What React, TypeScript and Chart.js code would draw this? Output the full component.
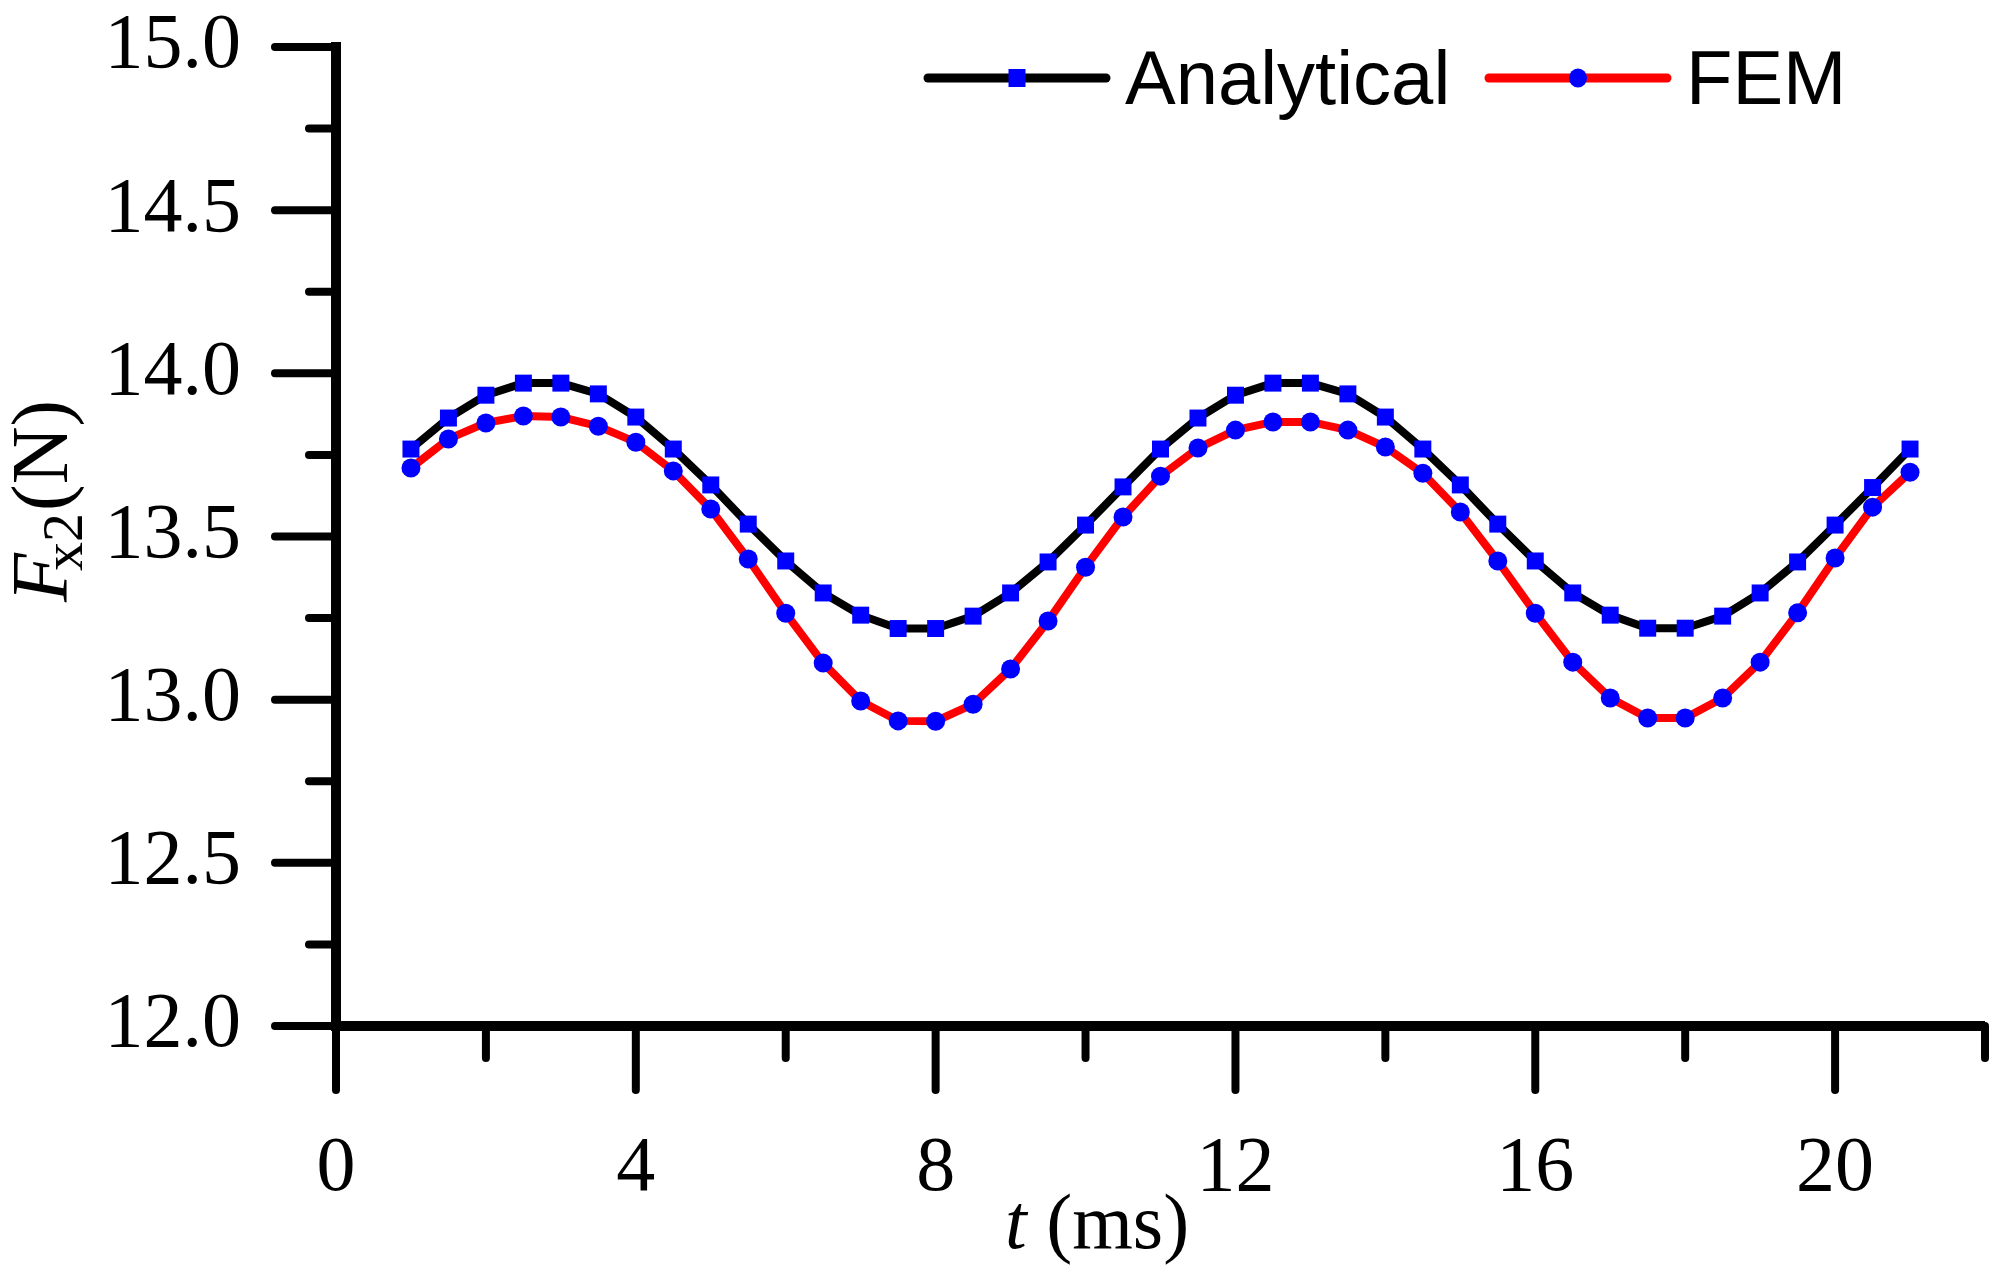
import React, { useEffect, useRef } from 'react';
import { Chart, registerables } from 'chart.js';

Chart.register(...registerables);

// time (ms)
const times = [
  1, 1.5, 2, 2.5, 3, 3.5, 4, 4.5, 5, 5.5, 6, 6.5, 7, 7.5, 8, 8.5, 9, 9.5, 10, 10.5,
  11, 11.5, 12, 12.5, 13, 13.5, 14, 14.5, 15, 15.5, 16, 16.5, 17, 17.5, 18, 18.5,
  19, 19.5, 20, 20.5, 21,
];

// Fx2 (N)
const analytical = [
  13.768, 13.863, 13.933, 13.970, 13.970, 13.937, 13.866, 13.768, 13.658, 13.538,
  13.425, 13.327, 13.259, 13.218, 13.218, 13.256, 13.327, 13.422, 13.535, 13.652,
  13.768, 13.863, 13.933, 13.970, 13.970, 13.937, 13.866, 13.768, 13.658, 13.538,
  13.425, 13.327, 13.259, 13.219, 13.219, 13.256, 13.327, 13.422, 13.535, 13.650,
  13.768,
];

const fem = [
  13.710, 13.799, 13.848, 13.869, 13.866, 13.838, 13.789, 13.701, 13.584, 13.431,
  13.265, 13.112, 12.996, 12.935, 12.934, 12.986, 13.094, 13.241, 13.406, 13.560,
  13.685, 13.771, 13.826, 13.851, 13.851, 13.826, 13.774, 13.694, 13.575, 13.425,
  13.265, 13.115, 13.005, 12.944, 12.944, 13.005, 13.115, 13.266, 13.434, 13.590,
  13.697,
];

const seriesNames = ['Analytical', 'FEM'];

// tick marks (labels on majors only)
const xTickValues = [0, 2, 4, 6, 8, 10, 12, 14, 16, 18, 20, 22];
const xMajorTicks = [0, 4, 8, 12, 16, 20];
const yTickValues = [12, 12.25, 12.5, 12.75, 13, 13.25, 13.5, 13.75, 14, 14.25, 14.5, 14.75, 15];
const yMajorTicks = [12, 12.5, 13, 13.5, 14, 14.5, 15];

const SERIF = '"Liberation Serif", "Times New Roman", serif';
const SANS = '"Liberation Sans", Arial, sans-serif';
const BLUE = '#0000ff';

const paperPlugin = {
  id: 'paperAxes',
  afterDraw(chart: any) {
    const { ctx, chartArea } = chart;
    const xs = chart.scales.x;
    const ys = chart.scales.y;
    const { left, right, top, bottom } = chartArea;

    ctx.save();
    ctx.strokeStyle = '#000';

    // tick marks
    ctx.lineWidth = 8;
    ctx.lineCap = 'round';
    yTickValues.forEach((v) => {
      const py = ys.getPixelForValue(v);
      const len = yMajorTicks.includes(v) ? 61 : 27;
      ctx.beginPath();
      ctx.moveTo(left, py);
      ctx.lineTo(left - len, py);
      ctx.stroke();
    });
    xTickValues.forEach((v) => {
      const px = xs.getPixelForValue(v);
      const len = xMajorTicks.includes(v) ? 64 : 32;
      ctx.beginPath();
      ctx.moveTo(px, bottom);
      ctx.lineTo(px, bottom + len);
      ctx.stroke();
    });

    // axis lines
    ctx.lineWidth = 10;
    ctx.lineCap = 'butt';
    ctx.beginPath();
    ctx.moveTo(left, top - 5);
    ctx.lineTo(left, bottom + 5);
    ctx.moveTo(left - 5, bottom);
    ctx.lineTo(right, bottom);
    ctx.stroke();

    // x title: t (ms)
    ctx.fillStyle = '#000';
    ctx.textBaseline = 'alphabetic';
    ctx.textAlign = 'left';
    let tx = 1005;
    ctx.font = `italic 78px ${SERIF}`;
    ctx.fillText('t', tx, 1248);
    tx += ctx.measureText('t').width;
    ctx.font = `78px ${SERIF}`;
    ctx.fillText(' (ms)', tx, 1248);

    // y title: Fx2(N), rotated
    ctx.save();
    ctx.translate(67, 602);
    ctx.rotate(-Math.PI / 2);
    ctx.font = `italic 80px ${SERIF}`;
    ctx.fillText('F', 0, 0);
    ctx.font = `58px ${SERIF}`;
    ctx.fillText('x2', 31, 15);
    ctx.font = `80px ${SERIF}`;
    ctx.fillText('(N)', 91, 0);
    ctx.restore();

    // legend
    const legendY = 78;
    const items = [
      { x0: 928, color: '#000000', marker: 'rect', label: seriesNames[0] },
      { x0: 1489, color: '#ff0000', marker: 'circle', label: seriesNames[1] },
    ];
    items.forEach((it) => {
      ctx.strokeStyle = it.color;
      ctx.lineWidth = 9;
      ctx.lineCap = 'round';
      ctx.beginPath();
      ctx.moveTo(it.x0, legendY);
      ctx.lineTo(it.x0 + 178, legendY);
      ctx.stroke();
      const cx = it.x0 + 89;
      ctx.fillStyle = BLUE;
      if (it.marker === 'rect') {
        ctx.fillRect(cx - 8.5, legendY - 9, 17, 18);
      } else {
        ctx.beginPath();
        ctx.ellipse(cx, legendY, 9, 9.5, 0, 0, Math.PI * 2);
        ctx.fill();
      }
      ctx.fillStyle = '#000';
      ctx.font = `76px ${SANS}`;
      ctx.fillText(it.label, it.x0 + 197, 104);
    });

    ctx.restore();
  },
};

const App: React.FC = () => {
  const chartRef = useRef<HTMLCanvasElement>(null);
  const chartInstance = useRef<Chart | null>(null);

  useEffect(() => {
    if (!chartRef.current) return;
    if (chartInstance.current) chartInstance.current.destroy();

    const ctx = chartRef.current.getContext('2d');
    if (!ctx) return;

    const tickFont = { family: SERIF, size: 78, lineHeight: 1 };

    chartInstance.current = new Chart(ctx, {
      type: 'line',
      data: {
        datasets: [
          {
            label: seriesNames[0],
            data: times.map((t, i) => ({ x: t, y: analytical[i] })),
            borderColor: '#000000',
            borderWidth: 8,
            pointStyle: 'rect',
            pointRadius: 12,
            pointBackgroundColor: BLUE,
            pointBorderColor: BLUE,
            pointBorderWidth: 0,
            tension: 0,
          },
          {
            label: seriesNames[1],
            data: times.map((t, i) => ({ x: t, y: fem[i] })),
            borderColor: '#ff0000',
            borderWidth: 8,
            pointStyle: 'circle',
            pointRadius: 9.5,
            pointBackgroundColor: BLUE,
            pointBorderColor: BLUE,
            pointBorderWidth: 0,
            tension: 0,
          },
        ],
      },
      options: {
        responsive: true,
        maintainAspectRatio: false,
        animation: false,
        layout: { padding: { top: 47, right: 17, left: 0, bottom: 0 } },
        plugins: {
          legend: { display: false },
          tooltip: { enabled: false },
        },
        scales: {
          x: {
            type: 'linear',
            min: 0,
            max: 22,
            afterFit: (s: any) => {
              s.height = 249;
              s.paddingLeft = 0;
              s.paddingRight = 0;
            },
            border: { display: false },
            grid: {
              display: true,
              drawOnChartArea: false,
              drawTicks: true,
              tickLength: 68,
              color: 'rgba(0,0,0,0)',
            },
            ticks: {
              stepSize: 4,
              includeBounds: false,
              autoSkip: false,
              maxRotation: 0,
              padding: 37,
              color: '#000',
              font: tickFont,
            },
          },
          y: {
            min: 12,
            max: 15,
            afterFit: (s: any) => {
              s.width = 336;
              s.paddingTop = 0;
              s.paddingBottom = 0;
            },
            border: { display: false },
            grid: {
              display: true,
              drawOnChartArea: false,
              drawTicks: true,
              tickLength: 68,
              color: 'rgba(0,0,0,0)',
            },
            ticks: {
              stepSize: 0.5,
              includeBounds: false,
              padding: 27,
              color: '#000',
              font: tickFont,
              callback: (v: any) => Number(v).toFixed(1),
            },
          },
        },
      },
      plugins: [paperPlugin],
    });

    return () => {
      if (chartInstance.current) {
        chartInstance.current.destroy();
        chartInstance.current = null;
      }
    };
  }, []);

  return (
    <div style={{ position: 'fixed', left: 0, top: 0, width: 2002, height: 1275, background: '#fff' }}>
      <canvas ref={chartRef} />
    </div>
  );
};

export default App;
